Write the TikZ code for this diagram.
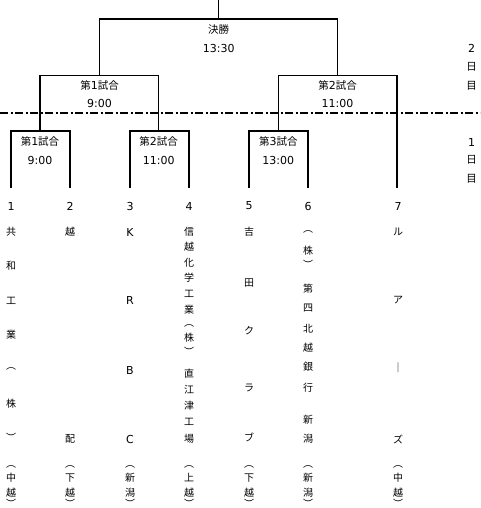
\documentclass[tikz,border=0pt]{standalone}
\usepackage{fontspec}
\setmainfont{Noto Sans CJK JP}
\newfontfamily\dg{DejaVu Sans}
\newcommand{\dgt}[1]{{\dg\fontsize{11}{13}\selectfont #1}}
\begin{document}
\begin{tikzpicture}[x=1pt,y=-1pt,
  line/.style={line width=1.5pt},
  dashdot/.style={line width=1.5pt,dash pattern=on 8pt off 2.5pt on 2pt off 2.5pt},
  lbl/.style={inner sep=0pt,font=\fontsize{10.5}{12}\selectfont},
  tchar/.style={inner sep=0pt,font=\fontsize{10}{12}\selectfont}]
\useasboundingbox (0,0) rectangle (480,508);
% tree coordinates
\coordinate (top) at (218.7,0);
\coordinate (fin) at (218.7,19);
\coordinate (s1) at (99.5,75.5);
\coordinate (s2) at (337.5,75.5);
\coordinate (r1) at (40,131);
\coordinate (r2) at (158.7,131);
\coordinate (r3) at (278.3,131);
\coordinate (t1) at (11,187.5);
\coordinate (t2) at (70,187.5);
\coordinate (t3) at (130,187.5);
\coordinate (t4) at (189,187.5);
\coordinate (t5) at (249,187.5);
\coordinate (t6) at (308,187.5);
\coordinate (t7) at (397,187.5);
\coordinate (dl) at (0,113);
\coordinate (dr) at (480,113);
% lines
\draw[line] (top) -- (fin);
\draw[line] (s1) |- (fin) -| (s2);
\draw[line] (r1) |- (s1) -| (r2);
\draw[line] (r3) |- (s2) -| (t7);
\draw[line] (t1) |- (r1) -| (t2);
\draw[line] (t3) |- (r2) -| (t4);
\draw[line] (t5) |- (r3) -| (t6);
\draw[dashdot] (dl) -- (dr);
% match labels
\node[lbl] (fa) at (218.7,30) {決勝};
\node[lbl] (fb) at (218.7,48) {\dgt{13:30}};
\node[lbl] (sa1) at (99.5,85) {第\dgt{1}試合};
\node[lbl] (sb1) at (99.5,103) {\dgt{9:00}};
\node[lbl] (sa2) at (337.5,85) {第\dgt{2}試合};
\node[lbl] (sb2) at (337.5,103) {\dgt{11:00}};
\node[lbl] (ra1) at (40,141) {第\dgt{1}試合};
\node[lbl] (rb1) at (40,160) {\dgt{9:00}};
\node[lbl] (ra2) at (158.7,141) {第\dgt{2}試合};
\node[lbl] (rb2) at (158.7,160) {\dgt{11:00}};
\node[lbl] (ra3) at (278.3,141) {第\dgt{3}試合};
\node[lbl] (rb3) at (278.3,160) {\dgt{13:00}};
% day labels
\node[lbl] (d1) at (471.7,48) {\dgt{2}};
\node[lbl] (d2) at (471.7,67) {日};
\node[lbl] (d3) at (471.7,86) {目};
\node[lbl] (d4) at (471.7,142) {\dgt{1}};
\node[lbl] (d5) at (471.7,160) {日};
\node[lbl] (d6) at (471.7,179) {目};
% team numbers
\foreach \x [count=\i] in {11,70,130,189,249,308,398}
  \node[lbl] (n\i) at (\x,206) {\dgt{\i}};
% team names
\foreach \y/\c [count=\i] in {232/共,266/和,301/工,335/業,369/︵,404/株,437/︶}
  \node[tchar] (a1-\i) at (11,\y) {\c};
\foreach \y/\c [count=\i] in {232/越,439/配}
  \node[tchar] (a2-\i) at (70,\y) {\c};
\foreach \y/\c [count=\i] in {232/K,300/R,370/B,439/C}
  \node[tchar] (a3-\i) at (130,\y) {\dgt{\c}};
\foreach \y/\c [count=\i] in {232/信,247/越,263/化,278/学,294/工,310/業,326/︵,338/株,351/︶,374/直,390/江,406/津,422/工,439/場}
  \node[tchar] (a4-\i) at (189,\y) {\c};
\foreach \y/\c [count=\i] in {232/吉,283/田,331/ク,388/ラ,437/ブ}
  \node[tchar] (a5-\i) at (249,\y) {\c};
\foreach \y/\c [count=\i] in {232/︵,251/株,264/︶,289/第,308/四,329/北,348/越,367/銀,388/行,420/新,439/潟}
  \node[tchar] (a6-\i) at (308,\y) {\c};
\foreach \y/\c [count=\i] in {232/ル,300/ア,368/｜,439/ズ}
  \node[tchar] (a7-\i) at (398,\y) {\c};
% regions
\foreach \x/\p/\q [count=\i] in {11/中/越,70/下/越,130/新/潟,189/上/越,249/下/越,308/新/潟,398/中/越}{
  \node[tchar] (b\i-1) at (\x,467) {︵};
  \node[tchar] (b\i-2) at (\x,478) {\p};
  \node[tchar] (b\i-3) at (\x,493) {\q};
  \node[tchar] (b\i-4) at (\x,503) {︶};
}
\end{tikzpicture}
\end{document}
